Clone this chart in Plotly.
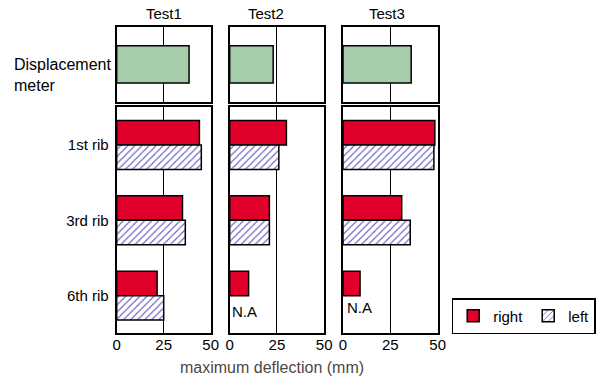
import plotly.graph_objects as go
from plotly.subplots import make_subplots

tests = ["Test1", "Test2", "Test3"]
ribs = ["1st rib", "3rd rib", "6th rib"]
disp_label = "Displacement meter"
displacement = [38.5, 23, 36]
right_test1 = [44, 35, 21.5]
right_test2 = [30, 21, 10]
right_test3 = [48.5, 31, 9]
left_test1 = [45, 36.5, 25]
left_test2 = [26, 21, None]
left_test3 = [48, 35.5, None]
x_ticks = [0, 25, 50]

right_vals = [right_test1, right_test2, right_test3]
left_vals = [left_test1, left_test2, left_test3]

W, H = 600, 379
FONT = "Liberation Sans, Arial, sans-serif"
RED = "#E0002A"
GREEN = "#A6CDAB"
HATCH = "#6F5FC0"

fig = make_subplots(rows=2, cols=3)

col_px = [(116.7, 210.7), (229.7, 324.2), (343.0, 437.7)]
row_px = [(27.0, 101.7), (107.3, 333.3)]

for i, t in enumerate(tests):
    fig.add_trace(go.Bar(
        x=[displacement[i]], y=[disp_label], orientation="h", width=0.5,
        marker=dict(color=GREEN, line=dict(color="black", width=1.5)),
        showlegend=False, hoverinfo="x"), row=1, col=i + 1)
    fig.add_trace(go.Bar(
        x=right_vals[i], y=ribs, orientation="h", name="right",
        marker=dict(color=RED, line=dict(color="black", width=1.5)),
        showlegend=(i == 0), legendgroup="right"), row=2, col=i + 1)
    fig.add_trace(go.Bar(
        x=left_vals[i], y=ribs, orientation="h", name="left",
        marker=dict(color="white", line=dict(color="black", width=1.5),
                    pattern=dict(shape="/", fgcolor=HATCH, bgcolor="white",
                                 size=5, solidity=0.22, fillmode="replace")),
        showlegend=(i == 0), legendgroup="left"), row=2, col=i + 1)

axis_common = dict(showline=True, mirror=True, linecolor="black", linewidth=2,
                   automargin=False)
for r in range(2):
    for c in range(3):
        idx = r * 3 + c + 1
        xs = "xaxis" if idx == 1 else f"xaxis{idx}"
        ys = "yaxis" if idx == 1 else f"yaxis{idx}"
        x0, x1 = col_px[c]
        y0, y1 = row_px[r]
        fig.layout[xs].update(
            domain=[x0 / W, x1 / W], range=[0, 50], tickvals=x_ticks,
            showgrid=True, gridcolor="black", gridwidth=1, zeroline=False,
            showticklabels=(r == 1), ticks="", ticklabelstandoff=-3,
            tickfont=dict(family=FONT, size=15, color="black"), **axis_common)
        fig.layout[ys].update(
            domain=[1 - y1 / H, 1 - y0 / H], autorange="reversed",
            showgrid=False, zeroline=False, ticks="",
            showticklabels=(r == 1 and c == 0), ticklabelstandoff=3,
            tickfont=dict(family=FONT, size=15, color="black"), **axis_common)

annotations = []
title_x = [164, 266, 387]
for t, xp in zip(tests, title_x):
    annotations.append(dict(text=t, x=xp / W, y=1 - 14 / H, xref="paper", yref="paper",
                            showarrow=False, xanchor="center", yanchor="middle",
                            font=dict(family=FONT, size=15, color="black")))
annotations.append(dict(text="Displacement<br>meter", x=12 / W, y=1 - 75 / H,
                        xref="paper", yref="paper", showarrow=False, align="left",
                        xanchor="left", yanchor="middle",
                        font=dict(family=FONT, size=16, color="black")))
annotations.append(dict(text="N.A", x=230 / W, y=1 - 311 / H, xref="paper", yref="paper",
                        showarrow=False, xanchor="left", yanchor="middle",
                        font=dict(family=FONT, size=15, color="black")))
annotations.append(dict(text="N.A", x=345 / W, y=1 - 307 / H, xref="paper", yref="paper",
                        showarrow=False, xanchor="left", yanchor="middle",
                        font=dict(family=FONT, size=15, color="black")))
annotations.append(dict(text="maximum deflection (mm)", x=272 / W, y=1 - 367 / H,
                        xref="paper", yref="paper", showarrow=False,
                        xanchor="center", yanchor="middle",
                        font=dict(family=FONT, size=16, color="#4f4646")))

fig.update_layout(
    width=W, height=H, margin=dict(l=0, r=0, t=0, b=0),
    paper_bgcolor="white", plot_bgcolor="white",
    barmode="group", bargap=0.35, bargroupgap=0,
    annotations=annotations,
    legend=dict(orientation="h", x=451.7 / W, y=1 - 298 / H, xanchor="left", yanchor="top",
                bordercolor="black", borderwidth=1.5, bgcolor="white",
                font=dict(family=FONT, size=15, color="black"), traceorder="normal"),
)

fig.write_html("out.html", config={"displayModeBar": False},
               post_script="document.body.style.margin='0';document.body.style.padding='0';")
